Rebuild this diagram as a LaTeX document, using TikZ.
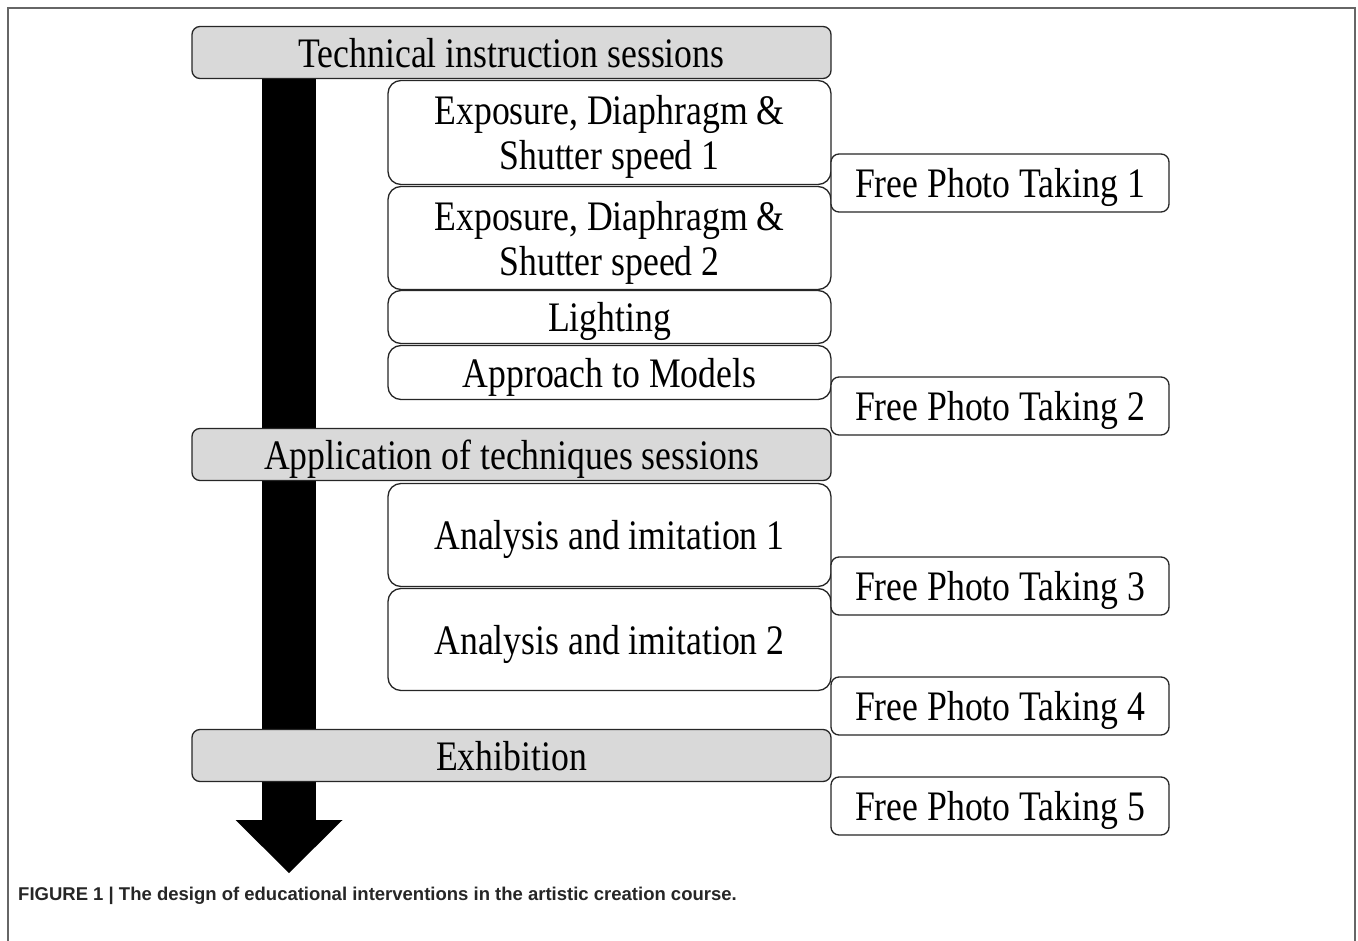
\documentclass[tikz,border=0pt]{standalone}
\usepackage{fontspec}
\setmainfont{Liberation Serif}[FakeStretch=0.85]
\newfontfamily\capfont{Liberation Sans}
\usetikzlibrary{positioning,arrows.meta,backgrounds}

\begin{document}
\begin{tikzpicture}[%
    x=1pt,
    y=-1pt,
    node distance=2pt,
    font=\fontsize{42}{45}\selectfont,
    phase/.style={%
      draw=black!85,
      line width=1.3pt,
      rounded corners=8pt,
      fill=gray!30,
      minimum width=639pt,
      minimum height=52pt,
      inner sep=0pt,
      outer sep=0pt,
      text depth=0pt
    },
    session/.style={%
      draw=black!85,
      line width=1.3pt,
      rounded corners=13pt,
      fill=white,
      minimum width=443pt,
      inner sep=0pt,
      outer sep=0pt,
      text depth=0pt,
      align=center
    },
    freetaking/.style={%
      draw=black!85,
      line width=1.3pt,
      rounded corners=8pt,
      fill=white,
      minimum width=338pt,
      minimum height=58pt,
      inner sep=0pt,
      outer sep=0pt,
      text depth=0pt,
      anchor=west
    }
  ]
    \useasboundingbox (0,0) rectangle (1358,941);
    \draw[black!60, line width=1.5pt] (8,941) -- (8,8) -- (1355,8) -- (1355,941);

    \node[phase] (tech) at (511.5,52.5)                                        {Technical instruction sessions};
    \node[session, minimum height=104pt] (exp1) [below=2pt of tech.south east, anchor=north east] {Exposure, Diaphragm \&\\Shutter speed 1};
    \node[session, minimum height=103pt] (exp2) [below=of exp1]              {Exposure, Diaphragm \&\\Shutter speed 2};
    \node[session, minimum height=53pt]  (light) [below=1pt of exp2]         {Lighting};
    \node[session, minimum height=54pt]  (models) [below=of light]           {Approach to Models};
    \node[phase] (apply) [below=29pt of models.south east, anchor=north east] {Application of techniques sessions};
    \node[session, minimum height=103pt] (imit1) [below=3pt of apply.south east, anchor=north east] {Analysis and imitation 1};
    \node[session, minimum height=102pt] (imit2) [below=of imit1]            {Analysis and imitation 2};
    \node[phase] (exhib) [below=39pt of imit2.south east, anchor=north east] {Exhibition};

    \node[freetaking] (free1) at (831,183) {Free Photo Taking 1};
    \node[freetaking] (free2) at (831,406) {Free Photo Taking 2};
    \node[freetaking] (free3) at (831,586) {Free Photo Taking 3};
    \node[freetaking] (free4) at (831,706) {Free Photo Taking 4};
    \node[freetaking] (free5) at (831,806) {Free Photo Taking 5};

    \node[anchor=base west, inner sep=0pt, text=black!85,
          font=\capfont\bfseries\fontsize{18.5}{20}\selectfont] (caption) at (18,900)
          {FIGURE 1 | The design of educational interventions in the artistic creation course.};

    \begin{scope}[on background layer]
      \coordinate (tip) at (289,873);
      \draw[line width=54pt, -{Triangle[width=107pt,length=53pt,line width=0pt]}]
        (tech.center -| tip) -- (tip);
    \end{scope}
  \end{tikzpicture}
\end{document}
